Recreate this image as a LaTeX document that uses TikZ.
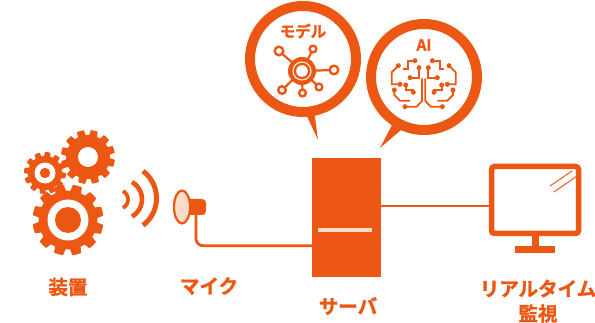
\documentclass[tikz,border=0pt]{standalone}
\usepackage{fontspec}
\usetikzlibrary{shapes.geometric}
\setmainfont{Noto Sans CJK JP}[BoldFont={* Bold},BoldFeatures={FakeBold=1.5}]
\definecolor{org}{HTML}{EC5814}
\definecolor{pale}{HTML}{FBDCCB}
\newcommand{\gearshape}[5]{% x,y,Rout,Rin,rot ; 12 teeth
 \fill[org] plot[samples at={0,...,119},variable=\k]
   ({#1+(mod(\k,10)<5.5 ? #3 : #4)*cos(#5+3*\k)},{#2+(mod(\k,10)<5.5 ? #3 : #4)*sin(#5+3*\k)}) -- cycle;}
\tikzset{
 lab/.style={text=org,font=\bfseries\fontsize{19.5}{22}\selectfont,inner sep=0pt,align=center},
 small/.style={text=org,font=\bfseries\fontsize{15.5}{17}\selectfont,inner sep=0pt},
 wire/.style={draw=org,line width=2.8pt,rounded corners=7pt},
 wave/.style={draw=org},
 sat/.style={draw=org,fill=white,line width=2.4pt},
 spoke/.style={draw=org,line width=2.2pt},
 circ/.style={draw=org,line width=1.8pt},
 bub/.style={draw=org,line width=10pt,fill=white}
}
\begin{document}
\begin{tikzpicture}[x=1pt,y=-1pt]
\useasboundingbox (0,0) rectangle (595,323);
% gears
\gearshape{88}{157}{27}{22}{6}
\fill[white] (88,157) circle (10);
\gearshape{45}{173}{21}{17}{0}
\fill[white] (45,173) circle (10.5);
\fill[org] (45,173) circle (5.2);
\gearshape{68}{220}{35.5}{29.5}{8}
\fill[white] (68,220) circle (20.5);
\fill[org] (68,220) circle (13);
% sound waves
\draw[wave,line width=3.8pt] (123,191) arc[start angle=-62,end angle=62,radius=9.6];
\draw[wave,line width=4.6pt] (132,182) arc[start angle=-60,end angle=60,radius=20];
\draw[wave,line width=5pt] (143,171) arc[start angle=-53,end angle=53,radius=34];
% microphone
\fill[org,rounded corners=4pt] (183,199) -- (200,199) -- (206,199) -- (206,215) -- (200,215) -- (183,215) -- cycle;
\fill[org] (180,192) -- (189,199) -- (189,215) -- (180,222) -- cycle;
\node[draw=org,fill=pale,line width=2.2pt,ellipse,minimum width=16pt,minimum height=33pt,inner sep=0pt] (mic) at (182,207) {};
\coordinate (micbase) at (196,214);
% server
\node[fill=org,minimum width=69pt,minimum height=119pt,inner sep=0pt] (server) at (346.5,217.5) {};
\fill[pale] (318,228) rectangle (372,232);
% monitor
\node[draw=org,line width=5.5pt,rounded corners=3pt,fill=white,minimum width=87pt,minimum height=67pt,inner sep=0pt] (monitor) at (535,200) {};
\fill[org] (532,236) rectangle (539,248);
\fill[org] (515,246) rectangle (555,253);
\draw[org,line width=1pt] (550,186) -- (572,171);
\draw[org,line width=1pt] (554,192) -- (577,176);
% connectors
\draw[wire] (micbase) |- (server.west |- 0,245.7);
\draw[draw=org,line width=2.8pt] (server.east |- 0,206) -- (monitor.west |- 0,206);
% bubbles
\fill[org] (305,112) -- (318,140) -- (314,110) -- cycle;
\fill[org] (392,125) -- (380,148) -- (401,130) -- cycle;
\node[bub,circle,minimum size=106pt,inner sep=0pt] (model) at (303,59) {};
\node[bub,circle,minimum size=106pt,inner sep=0pt] (ai) at (424,77) {};
\node[small] (modeltext) at (303,31) {モデル};
\node[small] (aitext) at (424,45) {AI};
% model icon
\foreach \x/\y/\r in {279/51/4.3,313/49/3.4,334/70/4.3,319/87/3.4,302.5/93/3.4,282/90/3.8}{
  \draw[spoke] (302,71) -- (\x,\y);
  \draw[sat] (\x,\y) circle (\r);
}
\fill[org] (302,71) circle (14);
\draw[white,line width=1pt] (302,71) circle (9);
\fill[white] (302,71) circle (5.8);
% brain icon
\begin{scope}[shift={(240,0)},xscale=1/3,yscale=1/3]
\foreach \s in {1,-1}{
 \begin{scope}[shift={(551,0)},xscale=\s,shift={(-551,0)}]
  \draw[circ,line join=round] (475,197) -- (455,217) -- (455,253) -- (480,253);
  \draw[circ] (525,182) -- (503,182) -- (503,207) -- (490,207);
  \draw[circ] (537,203) -- (537,233) -- (510,233);
  \draw[circ] (463,270) -- (463,285) -- (480,302) -- (510,302);
  \draw[circ] (497,255) -- (497,270) -- (520,270) -- (520,277);
  \draw[circ] (495,320) -- (530,320) -- (546,303) -- (546,235);
  \foreach \p in {(475,197),(480,253),(525,182),(537,203),(510,233),(463,270),(497,255),(520,277),(495,320)}
    \fill[org] \p circle (7.5);
 \end{scope}
}
\end{scope}
% labels
\node[lab] (l1) at (68,287) {装置};
\node[lab] (l2) at (209,286) {マイク};
\node[lab] (l3) at (348,306) {サーバ};
\node[lab] (l4) at (538,288.5) {リアルタイム};
\node[lab] (l5) at (538,313.5) {監視};
\end{tikzpicture}
\end{document}
